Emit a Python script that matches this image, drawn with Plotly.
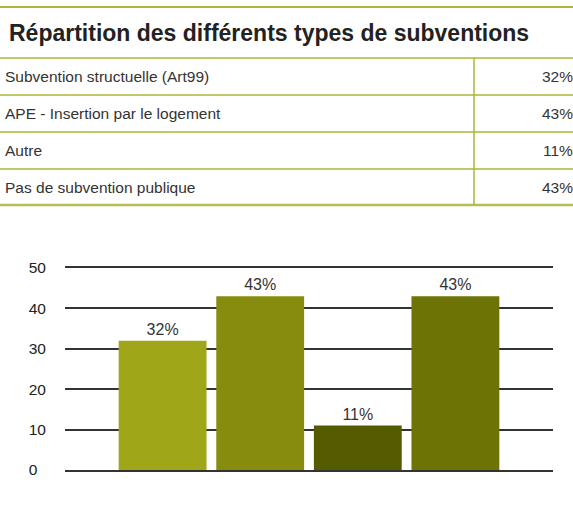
import plotly.graph_objects as go

categories = [
    "Subvention structuelle (Art99)",
    "APE - Insertion par le logement",
    "Autre",
    "Pas de subvention publique",
]
values = [32, 43, 11, 43]
bar_colors = ["#9fa618", "#878c0e", "#555b00", "#6d7305"]
y_ticks = [0, 10, 20, 30, 40, 50]
y_ticktext = ["0\u2007", "10", "20", "30", "40", "50"]
title = "Répartition des différents types de subventions"

W, H = 573, 518
L, R, T, B = 65, 20, 268, 48
PW, PH = W - L - R, H - T - B

_LINE = "#acb638"
_TEXT = "#333333"
_FONT = "Liberation Sans, Arial, sans-serif"


def px_x(x):
    return (x - L) / PW


def px_y(y):
    return (H - B - y) / PH


fig = go.Figure(go.Bar(
    x=list(range(len(values))),
    y=values,
    width=0.9,
    marker_color=bar_colors,
    marker_line_width=0,
    text=[f"{v}%" for v in values],
    textposition="outside",
    textfont=dict(size=16, color=_TEXT, family=_FONT),
    cliponaxis=False,
))

shapes = []
annotations = []

# table rules
rule_ys = [58, 95, 132, 169]
shapes.append(dict(type="line", xref="paper", yref="paper",
                   x0=px_x(0), x1=px_x(W), y0=px_y(7), y1=px_y(7),
                   line=dict(color=_LINE, width=2)))
for ry in rule_ys:
    shapes.append(dict(type="line", xref="paper", yref="paper",
                       x0=px_x(0), x1=px_x(W), y0=px_y(ry), y1=px_y(ry),
                       line=dict(color=_LINE, width=1.5)))
shapes.append(dict(type="line", xref="paper", yref="paper",
                   x0=px_x(0), x1=px_x(W), y0=px_y(205), y1=px_y(205),
                   line=dict(color="#b6bf55", width=2.5)))
shapes.append(dict(type="line", xref="paper", yref="paper",
                   x0=px_x(474), x1=px_x(474), y0=px_y(58), y1=px_y(205),
                   line=dict(color=_LINE, width=1.5)))

annotations.append(dict(
    text=f"<b>{title}</b>", xref="paper", yref="paper",
    x=px_x(7), y=px_y(33), xanchor="left", yanchor="middle",
    showarrow=False, font=dict(size=23, color="#222222", family=_FONT),
))
row_ys = [76.5, 113.5, 150.5, 187]
for cat, v, ry in zip(categories, values, row_ys):
    annotations.append(dict(
        text=cat, xref="paper", yref="paper",
        x=px_x(3), y=px_y(ry), xanchor="left", yanchor="middle",
        showarrow=False, font=dict(size=15.5, color=_TEXT, family=_FONT),
    ))
    annotations.append(dict(
        text=f"{v}%", xref="paper", yref="paper",
        x=px_x(575), y=px_y(ry), xanchor="right", yanchor="middle",
        showarrow=False, font=dict(size=15.5, color=_TEXT, family=_FONT),
    ))

fig.update_layout(
    width=W, height=H,
    margin=dict(l=L, r=R, t=T, b=B),
    plot_bgcolor="white",
    paper_bgcolor="white",
    showlegend=False,
    bargap=0.1,
    xaxis=dict(range=[-1, 4], showticklabels=False, showgrid=False,
               zeroline=False, showline=True, mirror=True,
               linecolor="#333333", linewidth=1.5, ticks=""),
    yaxis=dict(range=[0, 50], tickvals=y_ticks, ticktext=y_ticktext,
               showgrid=True, gridcolor="#333333", gridwidth=1.5,
               zeroline=False, showline=False, ticks="",
               ticklabelstandoff=18,
               tickfont=dict(size=15.5, color="#222222", family=_FONT)),
    shapes=shapes,
    annotations=annotations,
)

fig.write_html("out.html", config={"displayModeBar": False},
               post_script="document.body.style.margin='0';")
